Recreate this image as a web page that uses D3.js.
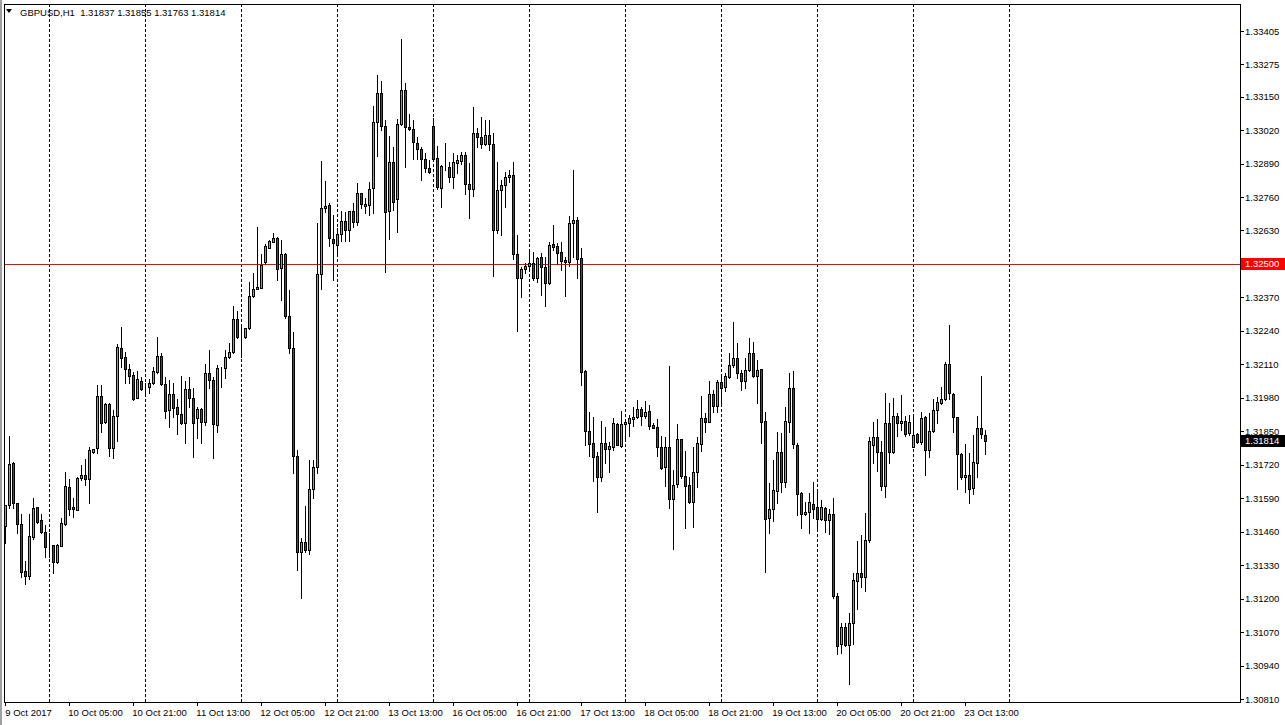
<!DOCTYPE html>
<html><head><meta charset="utf-8">
<script src="https://cdn.jsdelivr.net/npm/d3@7"></script>
<style>
html,body{margin:0;padding:0;background:#fff;overflow:hidden}
text{font-family:Tahoma,"Liberation Sans",Arial,sans-serif;font-size:9.5px;fill:#000;white-space:pre}
</style>
</head><body>
<svg id="c" width="1285" height="725"></svg>
<script>
const symbolTitle = "GBPUSD,H1";
const lastQuote = ["1.31837","1.31855","1.31763","1.31814"];

const opens = [
1.31482,1.31563,1.31726,1.31571,1.31489,1.31307,1.31287,1.31439,1.31555,1.31505,
1.31458,1.31404,1.31408,1.31342,1.31404,1.31489,1.31633,1.31555,1.31544,1.31668,
1.31680,1.31664,1.31769,1.31785,1.31987,1.31886,1.31956,1.31785,1.31909,1.32173,
1.32138,1.32091,1.32068,1.31979,1.32045,1.32018,1.32022,1.32037,1.32080,1.32142,
1.32033,1.31932,1.31994,1.31944,1.31917,1.31882,1.32014,1.31979,1.31901,1.31936,
1.31886,1.32076,1.32049,1.31874,1.32095,1.32095,1.32138,1.32158,1.32286,1.32220,
1.32216,1.32251,1.32375,1.32402,1.32406,1.32507,1.32562,1.32585,1.32600,1.32484,
1.32538,1.32297,1.32173,1.31753,1.31381,1.31419,1.31388,1.31625,1.31711,1.32461,
1.32717,1.32729,1.32597,1.32573,1.32616,1.32666,1.32631,1.32705,1.32663,1.32775,
1.32725,1.32729,1.32795,1.33051,1.33164,1.33036,1.32705,1.32896,1.32752,1.33043,
1.33175,1.33032,1.33024,1.32969,1.32946,1.32907,1.32872,1.33036,1.32911,1.32795,
1.32876,1.32876,1.32837,1.32892,1.32900,1.32923,1.32810,1.32791,1.33008,1.32993,
1.32966,1.33000,1.32966,1.32631,1.32787,1.32806,1.32837,1.32845,1.32538,1.32445,
1.32480,1.32492,1.32503,1.32445,1.32527,1.32488,1.32426,1.32577,1.32569,1.32546,
1.32515,1.32507,1.32659,1.32670,1.32523,1.32084,1.31851,1.31804,1.31753,1.31672,
1.31804,1.31781,1.31788,1.31878,1.31792,1.31878,1.31882,1.31897,1.31905,1.31936,
1.31909,1.31928,1.31874,1.31866,1.31788,1.31711,1.31788,1.31586,1.31645,1.31820,
1.31676,1.31641,1.31575,1.31691,1.31800,1.31901,1.31886,1.31994,1.31948,1.32041,
1.32022,1.32060,1.32107,1.32134,1.32076,1.32045,1.32088,1.32154,1.32064,1.32091,
1.31890,1.31513,1.31548,1.31617,1.31769,1.31652,1.31886,1.32018,1.31796,1.31610,
1.31528,1.31536,1.31567,1.31555,1.31509,1.31551,1.31505,1.31528,1.31210,1.31023,
1.31089,1.31019,1.31105,1.31268,1.31299,1.31283,1.31427,1.31796,1.31827,1.31769,
1.31637,1.31882,1.31769,1.31909,1.31882,1.31890,1.31843,1.31788,1.31839,1.31808,
1.31905,1.31777,1.31851,1.31932,1.31959,1.31975,1.32111,1.31994,1.31905,1.31761,
1.31672,1.31680,1.31629,1.31726,1.31862,1.31837];

const highs = [
1.31563,1.31831,1.31730,1.31571,1.31528,1.31346,1.31528,1.31590,1.31555,1.31528,
1.31485,1.31454,1.31408,1.31412,1.31513,1.31691,1.31664,1.31590,1.31672,1.31719,
1.31742,1.31788,1.31781,1.32029,1.32029,1.31959,1.31959,1.31932,1.32189,1.32255,
1.32158,1.32111,1.32080,1.32084,1.32060,1.32037,1.32053,1.32099,1.32216,1.32154,
1.32060,1.32049,1.32037,1.31975,1.32064,1.32045,1.32060,1.32018,1.31944,1.31940,
1.32111,1.32165,1.32060,1.32107,1.32099,1.32165,1.32192,1.32336,1.32317,1.32262,
1.32251,1.32429,1.32464,1.32643,1.32538,1.32577,1.32593,1.32620,1.32604,1.32593,
1.32542,1.32398,1.32235,1.31777,1.31435,1.31559,1.31738,1.31738,1.32659,1.32900,
1.32822,1.32736,1.32690,1.32639,1.32705,1.32701,1.32705,1.32736,1.32814,1.32775,
1.32756,1.32818,1.33113,1.33234,1.33210,1.33059,1.32997,1.32954,1.33063,1.33374,
1.33203,1.33082,1.33059,1.32993,1.32954,1.32931,1.32903,1.33067,1.32958,1.32884,
1.32969,1.32896,1.32931,1.32923,1.32934,1.32934,1.32892,1.33109,1.33028,1.33070,
1.33059,1.33059,1.33008,1.32896,1.32826,1.32857,1.32865,1.32896,1.32612,1.32488,
1.32503,1.32554,1.32546,1.32527,1.32542,1.32527,1.32585,1.32651,1.32581,1.32585,
1.32527,1.32686,1.32865,1.32682,1.32562,1.32088,1.31924,1.31905,1.31769,1.31889,
1.31866,1.31808,1.31901,1.31882,1.31928,1.31893,1.31913,1.31944,1.31971,1.31944,
1.31967,1.31952,1.31882,1.31897,1.31831,1.31827,1.32103,1.31699,1.31878,1.31820,
1.31773,1.31672,1.31788,1.31827,1.31987,1.31921,1.32045,1.32010,1.32049,1.32068,
1.32076,1.32154,1.32274,1.32192,1.32088,1.32134,1.32212,1.32196,1.32126,1.32091,
1.31924,1.31649,1.31738,1.31847,1.31843,1.31944,1.32076,1.32084,1.31804,1.31614,
1.31575,1.31610,1.31652,1.31621,1.31583,1.31555,1.31548,1.31590,1.31221,1.31105,
1.31105,1.31144,1.31299,1.31423,1.31447,1.31532,1.31827,1.31886,1.31897,1.31812,
1.31998,1.31959,1.31979,1.31921,1.31990,1.31909,1.31913,1.31905,1.31843,1.31924,
1.31909,1.31921,1.31975,1.31983,1.32022,1.32119,1.32262,1.31998,1.31905,1.31765,
1.31800,1.31765,1.31835,1.31909,1.32064,1.31855];

const lows = [
1.31415,1.31551,1.31551,1.31454,1.31283,1.31256,1.31276,1.31431,1.31493,1.31454,
1.31361,1.31361,1.31299,1.31338,1.31404,1.31485,1.31524,1.31517,1.31544,1.31660,
1.31641,1.31571,1.31765,1.31765,1.31847,1.31882,1.31753,1.31746,1.31812,1.32099,
1.32037,1.32037,1.31971,1.31979,1.32010,1.31987,1.31998,1.32033,1.32076,1.32029,
1.31901,1.31866,1.31905,1.31839,1.31878,1.31804,1.31944,1.31750,1.31823,1.31804,
1.31874,1.32018,1.31746,1.31847,1.32022,1.32057,1.32134,1.32154,1.32212,1.32138,
1.32212,1.32247,1.32371,1.32402,1.32406,1.32499,1.32562,1.32585,1.32437,1.32360,
1.32290,1.32154,1.31687,1.31311,1.31202,1.31381,1.31373,1.31590,1.31687,1.32402,
1.32701,1.32569,1.32437,1.32542,1.32589,1.32589,1.32589,1.32643,1.32651,1.32717,
1.32698,1.32690,1.32698,1.32919,1.33020,1.32468,1.32597,1.32709,1.32624,1.33039,
1.32876,1.33020,1.32907,1.32907,1.32826,1.32857,1.32853,1.32903,1.32791,1.32721,
1.32865,1.32818,1.32795,1.32853,1.32888,1.32771,1.32678,1.32763,1.32954,1.32950,
1.32962,1.32942,1.32453,1.32620,1.32612,1.32721,1.32818,1.32519,1.32239,1.32371,
1.32464,1.32476,1.32437,1.32429,1.32379,1.32336,1.32422,1.32554,1.32499,1.32476,
1.32375,1.32492,1.32527,1.32445,1.32029,1.31796,1.31753,1.31656,1.31536,1.31656,
1.31726,1.31691,1.31777,1.31796,1.31788,1.31823,1.31831,1.31870,1.31901,1.31874,
1.31901,1.31858,1.31862,1.31753,1.31703,1.31637,1.31551,1.31392,1.31633,1.31668,
1.31474,1.31571,1.31478,1.31633,1.31773,1.31847,1.31886,1.31924,1.31924,1.31959,
1.32006,1.32057,1.32099,1.32057,1.32010,1.32018,1.32084,1.32060,1.31959,1.31804,
1.31303,1.31454,1.31501,1.31571,1.31614,1.31633,1.31847,1.31785,1.31524,1.31474,
1.31524,1.31454,1.31513,1.31474,1.31505,1.31458,1.31450,1.31202,1.30984,1.30988,
1.31015,1.30868,1.31023,1.31159,1.31245,1.31229,1.31419,1.31726,1.31695,1.31621,
1.31594,1.31726,1.31765,1.31831,1.31854,1.31831,1.31835,1.31788,1.31804,1.31800,
1.31680,1.31750,1.31847,1.31882,1.31956,1.31971,1.31975,1.31847,1.31625,1.31664,
1.31614,1.31571,1.31606,1.31672,1.31823,1.31763];

const closes = [
1.31563,1.31722,1.31571,1.31489,1.31303,1.31287,1.31443,1.31551,1.31497,1.31458,
1.31400,1.31405,1.31342,1.31408,1.31493,1.31637,1.31548,1.31548,1.31668,1.31680,
1.31664,1.31777,1.31781,1.31987,1.31882,1.31956,1.31785,1.31909,1.32177,1.32134,
1.32091,1.32064,1.31975,1.32053,1.32014,1.32017,1.32037,1.32084,1.32142,1.32033,
1.31928,1.31994,1.31940,1.31917,1.31882,1.32014,1.31979,1.31882,1.31936,1.31886,
1.32076,1.32049,1.31878,1.32095,1.32096,1.32138,1.32158,1.32286,1.32216,1.32219,
1.32251,1.32375,1.32402,1.32410,1.32496,1.32569,1.32589,1.32600,1.32480,1.32538,
1.32297,1.32173,1.31753,1.31381,1.31419,1.31388,1.31625,1.31711,1.32461,1.32717,
1.32725,1.32600,1.32581,1.32616,1.32666,1.32631,1.32705,1.32663,1.32775,1.32733,
1.32733,1.32791,1.33051,1.33164,1.33036,1.32701,1.32896,1.32740,1.33043,1.33175,
1.33032,1.33024,1.32973,1.32946,1.32907,1.32872,1.32857,1.32907,1.32799,1.32880,
1.32877,1.32837,1.32896,1.32903,1.32923,1.32810,1.32791,1.33008,1.32993,1.32966,
1.33000,1.32966,1.32631,1.32787,1.32806,1.32837,1.32845,1.32538,1.32445,1.32480,
1.32492,1.32503,1.32445,1.32523,1.32488,1.32426,1.32573,1.32565,1.32542,1.32511,
1.32507,1.32659,1.32670,1.32519,1.32080,1.31851,1.31800,1.31750,1.31672,1.31804,
1.31781,1.31792,1.31882,1.31796,1.31878,1.31886,1.31901,1.31905,1.31936,1.31909,
1.31924,1.31870,1.31862,1.31788,1.31707,1.31788,1.31586,1.31641,1.31820,1.31676,
1.31637,1.31575,1.31691,1.31804,1.31901,1.31886,1.31994,1.31948,1.32041,1.32018,
1.32064,1.32107,1.32134,1.32076,1.32045,1.32088,1.32154,1.32064,1.32088,1.31886,
1.31509,1.31548,1.31621,1.31769,1.31652,1.31889,1.32018,1.31800,1.31606,1.31528,
1.31536,1.31575,1.31548,1.31509,1.31555,1.31505,1.31528,1.31210,1.31015,1.31089,
1.31019,1.31105,1.31272,1.31299,1.31283,1.31427,1.31812,1.31827,1.31769,1.31637,
1.31882,1.31769,1.31909,1.31882,1.31890,1.31839,1.31886,1.31835,1.31808,1.31901,
1.31777,1.31851,1.31932,1.31963,1.31975,1.32111,1.31998,1.31905,1.31761,1.31672,
1.31680,1.31625,1.31730,1.31862,1.31839,1.31814];

const priceTicks = [1.33405,1.33275,1.33150,1.33020,1.32890,1.32760,1.32630,1.32500,1.32370,1.32240,
  1.32110,1.31980,1.31850,1.31720,1.31590,1.31460,1.31330,1.31200,1.31070,1.30940,1.30810];
const timeLabels = ["9 Oct 2017","10 Oct 05:00","10 Oct 21:00","11 Oct 13:00","12 Oct 05:00","12 Oct 21:00",
  "13 Oct 13:00","16 Oct 05:00","16 Oct 21:00","17 Oct 13:00","18 Oct 05:00","18 Oct 21:00",
  "19 Oct 13:00","20 Oct 05:00","20 Oct 21:00","23 Oct 13:00"];
const timeLabelBars = [0,16,32,48,64,80,96,112,128,144,160,176,192,208,224,240];
const dayGridBars = [11,35,59,83,107,131,155,179,203,227,251];
const levelLine = 1.32500;
const bidPrice = 1.31814;

const svg = d3.select("#c");
const P = {left:4, top:4, right:1240, bottom:702};

const x = d3.scaleLinear().domain([0, 245]).range([5.3, 985.3]);
const y = d3.scaleLinear().domain([1.30810, 1.33405]).range([699, 31]);
const px = v => Math.round(v) + 0.5;

svg.append("rect").attr("width",1285).attr("height",725).attr("fill","#fff");

// window border (left / top gray)
svg.append("rect").attr("x",0).attr("y",0).attr("width",2).attr("height",725).attr("fill","#a0a0a0");

// grid
const g = svg.append("g").attr("shape-rendering","crispEdges");
g.selectAll("line.grid").data(dayGridBars).join("line")
  .attr("x1",d=>px(x(d))).attr("x2",d=>px(x(d)))
  .attr("y1",P.top).attr("y2",P.bottom)
  .attr("stroke","#000").attr("stroke-dasharray","3,2");

// level line
g.append("line").attr("x1",P.left).attr("x2",P.right)
  .attr("y1",px(y(levelLine))).attr("y2",px(y(levelLine)))
  .attr("stroke","#ff0000");

// candles
const idx = d3.range(opens.length);
const cg = svg.append("g").attr("shape-rendering","crispEdges");
cg.selectAll("line.w").data(idx).join("line")
  .attr("x1",i=>px(x(i))).attr("x2",i=>px(x(i)))
  .attr("y1",i=>Math.round(y(highs[i]))).attr("y2",i=>Math.round(y(lows[i]))+1)
  .attr("stroke","#000");
cg.selectAll("rect.b").data(idx).join("rect")
  .attr("x",i=>Math.round(x(i))-0.5)
  .attr("width",2)
  .attr("y",i=>Math.round(y(Math.max(opens[i],closes[i])))+0.5)
  .attr("height",i=>Math.max(0,Math.round(y(Math.min(opens[i],closes[i])))-Math.round(y(Math.max(opens[i],closes[i])))))
  .attr("fill",i=>closes[i]>opens[i]?"#00ff00":(closes[i]<opens[i]?"#ff0000":"#000"))
  .attr("stroke","#000");

// frame
svg.append("rect").attr("x",P.left+0.5).attr("y",P.top+0.5)
  .attr("width",P.right-P.left).attr("height",P.bottom-P.top)
  .attr("fill","none").attr("stroke","#000").attr("shape-rendering","crispEdges");

// price axis
const ax = svg.append("g");
priceTicks.forEach(v=>{
  const yy = y(v);
  ax.append("line").attr("x1",P.right).attr("x2",P.right+4).attr("y1",px(yy)).attr("y2",px(yy))
    .attr("stroke","#000").attr("shape-rendering","crispEdges");
  ax.append("text").attr("x",P.right+5).attr("y",yy+3.5).text(d3.format(".5f")(v));
});
// level label
{
  const yy = y(levelLine);
  ax.append("rect").attr("x",P.right+1).attr("y",Math.round(yy)-6).attr("width",44).attr("height",12).attr("fill","#ff0000");
  ax.append("text").attr("x",P.right+5).attr("y",yy+3.5).attr("fill","#fff").style("fill","#fff").text(d3.format(".5f")(levelLine));
}
{
  const yy = y(bidPrice);
  ax.append("rect").attr("x",P.right+1).attr("y",Math.round(yy)-6).attr("width",44).attr("height",12).attr("fill","#000");
  ax.append("text").attr("x",P.right+5).attr("y",yy+3.5).style("fill","#fff").text(d3.format(".5f")(bidPrice));
}

// time axis
timeLabelBars.forEach((b,i)=>{
  const xx = x(b);
  ax.append("line").attr("x1",px(xx)).attr("x2",px(xx)).attr("y1",P.bottom).attr("y2",P.bottom+4)
    .attr("stroke","#000").attr("shape-rendering","crispEdges");
  ax.append("text").attr("x",xx+(i===0?0:-1)).attr("y",716).text(timeLabels[i]);
});

// title
svg.append("path").attr("d","M6,9 L12,9 L9,13 Z").attr("fill","#000");
svg.append("text").attr("x",20).attr("y",16)
  .text(symbolTitle + "  " + lastQuote.join(" "));
</script>
</body></html>
